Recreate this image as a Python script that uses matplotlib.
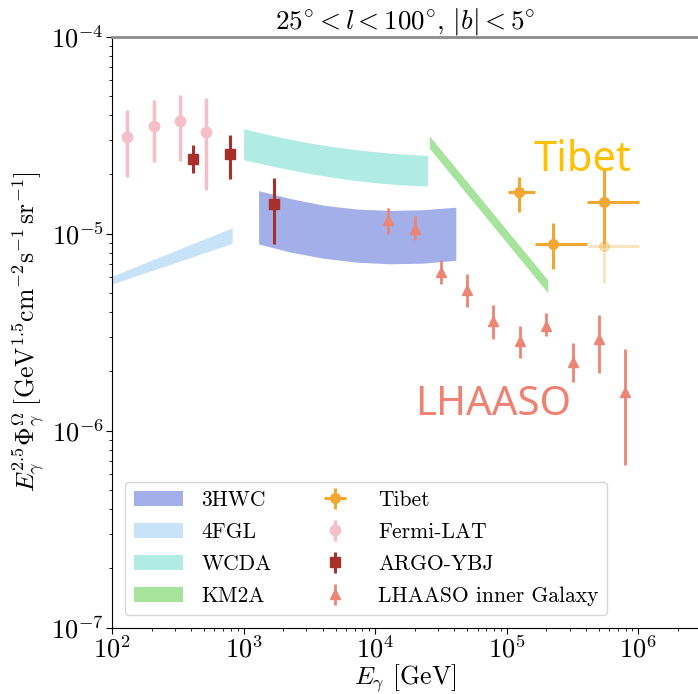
import matplotlib
matplotlib.use('Agg')
import matplotlib.pyplot as plt

# ---------------- data ----------------
hawc_E = [1.3e3, 2.3e3, 4.1e3, 7.3e3, 1.3e4, 2.3e4, 4.1e4]
hawc_lo = [8.85e-6, 8.03e-6, 7.48e-6, 7.15e-6, 7.02e-6, 7.07e-6, 7.31e-6]
hawc_hi = [1.65e-5, 1.50e-5, 1.39e-5, 1.33e-5, 1.31e-5, 1.32e-5, 1.36e-5]

fgl_E = [1.0e2, 8.2e2]
fgl_lo = [5.54e-6, 8.91e-6]
fgl_hi = [6.08e-6, 1.07e-5]

wcda_E = [1000, 1500, 2000, 3000, 5000, 7000, 10000, 15000, 25000]
wcda_lo = [2.37e-5, 2.23e-5, 2.14e-5, 2.03e-5, 1.92e-5, 1.86e-5, 1.81e-5, 1.77e-5, 1.74e-5]
wcda_hi = [3.40e-5, 3.19e-5, 3.06e-5, 2.90e-5, 2.75e-5, 2.67e-5, 2.60e-5, 2.54e-5, 2.49e-5]

km2a_E = [2.58e4, 2.05e5]
km2a_lo = [2.71e-5, 5.00e-6]
km2a_hi = [3.13e-5, 5.81e-6]

fermi_E = [130, 208, 330, 520]
fermi_y = [3.10e-5, 3.51e-5, 3.74e-5, 3.27e-5]
fermi_lo = [1.94e-5, 2.31e-5, 2.34e-5, 1.67e-5]
fermi_hi = [4.24e-5, 4.77e-5, 5.05e-5, 4.85e-5]

argo_E = [410, 788, 1694]
argo_y = [2.39e-5, 2.52e-5, 1.41e-5]
argo_lo = [2.02e-5, 1.88e-5, 8.81e-6]
argo_hi = [2.81e-5, 3.16e-5, 1.92e-5]

tibet_E = [1.245e5, 2.25e5, 5.48e5]
tibet_Elo = [1.03e5, 1.64e5, 4.09e5]
tibet_Ehi = [1.64e5, 4.05e5, 1.02e6]
tibet_y = [1.62e-5, 8.81e-6, 1.44e-5]
tibet_lo = [1.29e-5, 6.58e-6, 8.83e-6]
tibet_hi = [1.94e-5, 1.13e-5, 2.10e-5]

tibet2_E = [5.48e5]
tibet2_Elo = [4.16e5]
tibet2_Ehi = [1.02e6]
tibet2_y = [8.65e-6]
tibet2_lo = [5.62e-6]
tibet2_hi = [1.44e-5]

lhaaso_E = [1.26e4, 2.0e4, 3.16e4, 5.0e4, 7.9e4, 1.26e5, 2.0e5, 3.16e5, 5.0e5, 7.9e5]
lhaaso_y = [1.17e-5, 1.06e-5, 6.40e-6, 5.17e-6, 3.61e-6, 2.86e-6, 3.39e-6, 2.23e-6, 2.90e-6, 1.57e-6]
lhaaso_lo = [1.00e-5, 9.27e-6, 5.54e-6, 4.25e-6, 2.90e-6, 2.34e-6, 3.02e-6, 1.76e-6, 1.97e-6, 6.68e-7]
lhaaso_hi = [1.35e-5, 1.23e-5, 7.33e-6, 6.22e-6, 4.34e-6, 3.39e-6, 3.94e-6, 2.77e-6, 3.85e-6, 2.58e-6]

# ---------------- style ----------------
plt.rcParams['font.family'] = 'serif'
plt.rcParams['font.serif'] = ['cmr10', 'DejaVu Serif']
plt.rcParams['mathtext.fontset'] = 'cm'
plt.rcParams['axes.formatter.use_mathtext'] = True
plt.rcParams['axes.unicode_minus'] = False

fig = plt.figure(figsize=(6.98, 6.94), dpi=100)
ax = fig.add_axes([0.1605, 0.0958, 0.8395, 0.8516])
ax.set_xscale('log')
ax.set_yscale('log')


def errs(y, lo, hi):
    return [[a - b for a, b in zip(y, lo)], [c - a for a, c in zip(y, hi)]]


c_hawc = '#a2afe8'
c_fgl = '#c8e2f7'
c_wcda = '#b0ece3'
c_km2a = '#a6e39b'

h1 = ax.fill_between(hawc_E, hawc_lo, hawc_hi, color=c_hawc, lw=0, label='3HWC', zorder=1)
h2 = ax.fill_between(fgl_E, fgl_lo, fgl_hi, color=c_fgl, lw=0, label='4FGL', zorder=1)
h3 = ax.fill_between(wcda_E, wcda_lo, wcda_hi, color=c_wcda, lw=0, label='WCDA', zorder=1)
h4 = ax.fill_between(km2a_E, km2a_lo, km2a_hi, color=c_km2a, lw=0, label='KM2A', zorder=1)

c_tibet = '#f0a832'
h5 = ax.errorbar(tibet_E, tibet_y, yerr=errs(tibet_y, tibet_lo, tibet_hi),
                 xerr=errs(tibet_E, tibet_Elo, tibet_Ehi), fmt='o', color=c_tibet,
                 ms=7, elinewidth=2.2, capsize=0, label='Tibet', zorder=4)
ax.errorbar(tibet2_E, tibet2_y, yerr=errs(tibet2_y, tibet2_lo, tibet2_hi),
            xerr=errs(tibet2_E, tibet2_Elo, tibet2_Ehi), fmt='o', color=c_tibet,
            alpha=0.3, ms=7, elinewidth=2.2, capsize=0, zorder=3)

h6 = ax.errorbar(fermi_E, fermi_y, yerr=errs(fermi_y, fermi_lo, fermi_hi), fmt='o',
                 color='#f5bfc9', ms=7.5, elinewidth=2.5, capsize=0, label='Fermi-LAT', zorder=3)
h7 = ax.errorbar(argo_E, argo_y, yerr=errs(argo_y, argo_lo, argo_hi), fmt='s',
                 color='#a8302a', ms=6.5, elinewidth=2.2, capsize=0, label='ARGO-YBJ', zorder=4)
h8 = ax.errorbar(lhaaso_E, lhaaso_y, yerr=errs(lhaaso_y, lhaaso_lo, lhaaso_hi), fmt='^',
                 color='#ec8576', ms=7, elinewidth=2.0, capsize=0,
                 label='LHAASO inner Galaxy', zorder=4)

ax.set_xlim(1e2, 2.84e6)
ax.set_ylim(1e-7, 1e-4)

ax.spines['right'].set_visible(False)
ax.spines['top'].set_color('0.55')
ax.spines['top'].set_linewidth(2.0)
ax.tick_params(which='both', top=False, right=False, labelsize=19)
ax.tick_params(which='major', length=4, pad=1.8)
ax.tick_params(which='minor', length=2)

ax.set_title(r'$25^{\circ} < l < 100^{\circ},\, |b| < 5^{\circ}$', fontsize=19.5, pad=4)
ax.set_xlabel(r'$E_\gamma$ [GeV]', fontsize=18.5, labelpad=0)
ax.set_ylabel(r'$E_\gamma^{2.5}\Phi_\gamma^{\Omega}\;[\mathrm{GeV}^{1.5}\mathrm{cm}^{-2}\mathrm{s}^{-1}\,\mathrm{sr}^{-1}]$',
              fontsize=18.5, labelpad=3)

ax.text(3.8e5, 2.36e-5, 'Tibet', fontsize=30, color='#ffc000', family=['Noto Sans'],
        ha='center', va='center')
ax.text(7.85e4, 1.35e-6, 'LHAASO', fontsize=29, color='#f08070', family=['Noto Sans'],
        ha='center', va='center')

leg = ax.legend(handles=[h1, h2, h3, h4, h5, h6, h7, h8], ncol=2, loc='lower left',
                fontsize=15.5, handlelength=2.3, handletextpad=0.85, columnspacing=1.8,
                labelspacing=0.58, borderaxespad=0.6, bbox_to_anchor=(0.0, 0.0))

fig.savefig('out.png', dpi=100)
